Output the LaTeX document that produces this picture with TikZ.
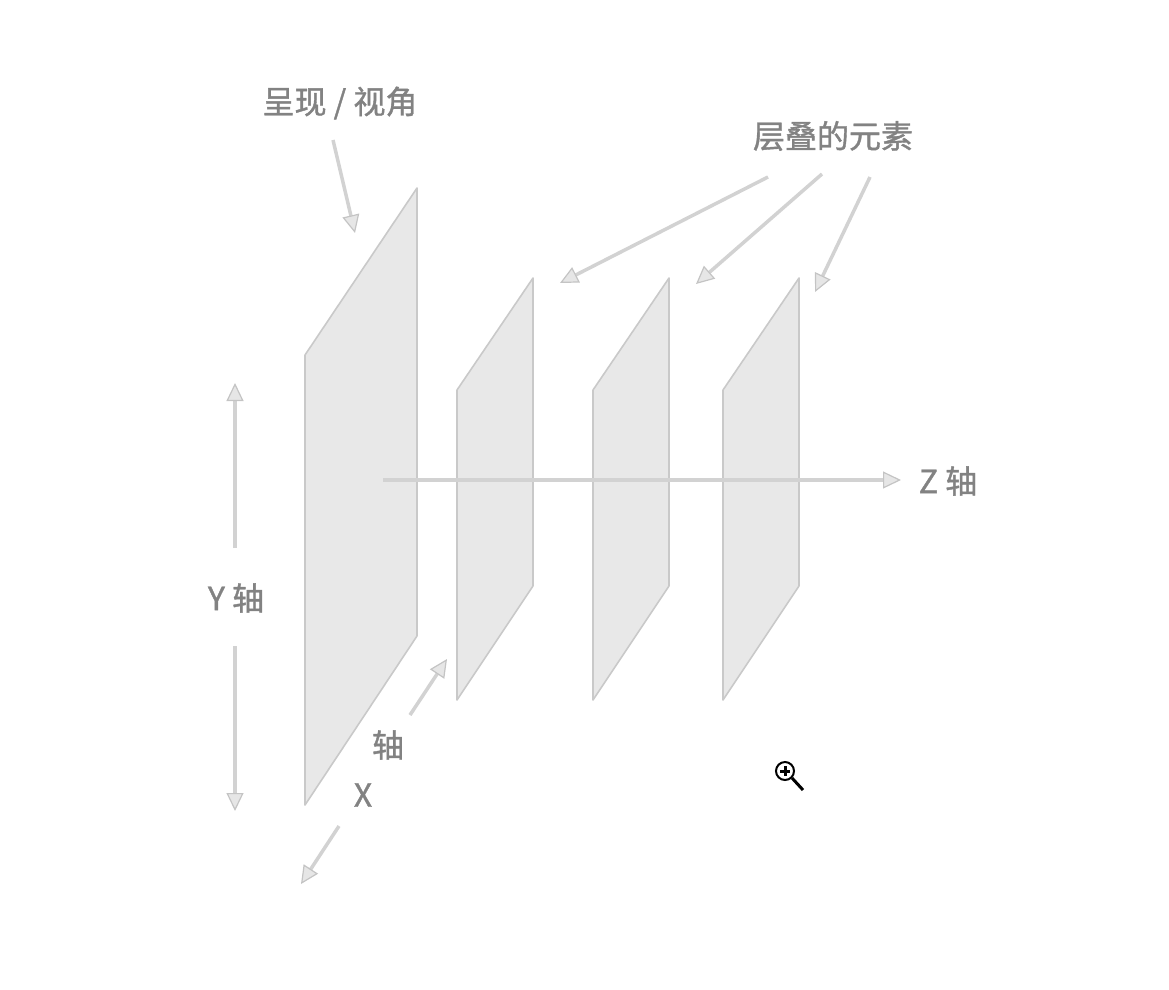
\documentclass[tikz,border=0pt]{standalone}
\usepackage{fontspec}
\setmainfont{Noto Sans CJK SC}
\newfontfamily\labelfont[FakeBold=1.2]{Noto Sans CJK SC}
\usetikzlibrary{arrows.meta}
\definecolor{sheet}{HTML}{E8E8E8}
\definecolor{rim}{HTML}{C9C9C9}
\definecolor{guideline}{HTML}{D2D2D2}
\definecolor{tipfill}{HTML}{E6E6E6}
\definecolor{tiprim}{HTML}{C4C4C4}
\definecolor{ink}{HTML}{828282}

\tikzset{
  plane/.style={fill=sheet,draw=rim,line width=1.6pt,line join=round},
  guide/.style={draw=guideline,line width=3.5pt,
    -{Triangle[length=18pt,width=17pt,line width=1.2pt,fill=tipfill,color=tiprim]}},
  lbl/.style={text=ink,font=\labelfont\fontsize{32}{36}\selectfont,inner sep=2pt}
}

\begin{document}
\begin{tikzpicture}[x=1pt,y=-1pt]
  \useasboundingbox (0,0) rectangle (1169,989);

  % the stacked sheets
  \draw[plane] (305,355) -- (417,188) -- (417,636) -- (305,805) -- cycle;
  \foreach \x in {457,593,723}
    \draw[plane] (\x,390) -- ++(76,-112) -- ++(0,308) -- ++(-76,114) -- cycle;

  % labels
  \node[lbl] (view)  at (340,103) {呈现 / 视角};
  \node[lbl] (stack) at (833,136) {层叠的元素};
  \node[lbl] (zlbl)  at (948,481) {Z 轴};
  \node[lbl] (ylbl)  at (236,598) {Y 轴};
  \node[lbl] (xword) at (388,745) {轴};
  \node[lbl] (xlbl)  at (363,795) {X};

  % arrow ends
  \coordinate (viewA) at (333,140);  \coordinate (viewB) at (355,233);
  \coordinate (s1A) at (768,177);    \coordinate (s1B) at (560,283);
  \coordinate (s2A) at (822,174);    \coordinate (s2B) at (696,284);
  \coordinate (s3A) at (870,177);    \coordinate (s3B) at (815,292);
  \coordinate (zA) at (383,480);     \coordinate (zB) at (901,480);
  \coordinate (yupA) at (235,548);   \coordinate (yupB) at (235,383);
  \coordinate (ydnA) at (235,646);   \coordinate (ydnB) at (235,811);
  \coordinate (xupA) at (410,715);   \coordinate (xupB) at (447,659);
  \coordinate (xdnA) at (339,826);   \coordinate (xdnB) at (301,884);

  \draw[guide] (viewA) -- (viewB);
  \draw[guide] (s1A) -- (s1B);
  \draw[guide] (s2A) -- (s2B);
  \draw[guide] (s3A) -- (s3B);
  \draw[guide] (zA) -- (zB);
  \draw[guide] (yupA) -- (yupB);
  \draw[guide] (ydnA) -- (ydnB);
  \draw[guide] (xupA) -- (xupB);
  \draw[guide] (xdnA) -- (xdnB);

  % zoom cursor
  \draw[line width=2pt] (785,771) circle (9);
  \draw[line width=3pt] (780,771) -- (790,771) (785,766) -- (785,776);
  \draw[line width=3pt] (792,778) -- (803,790);
\end{tikzpicture}
\end{document}
